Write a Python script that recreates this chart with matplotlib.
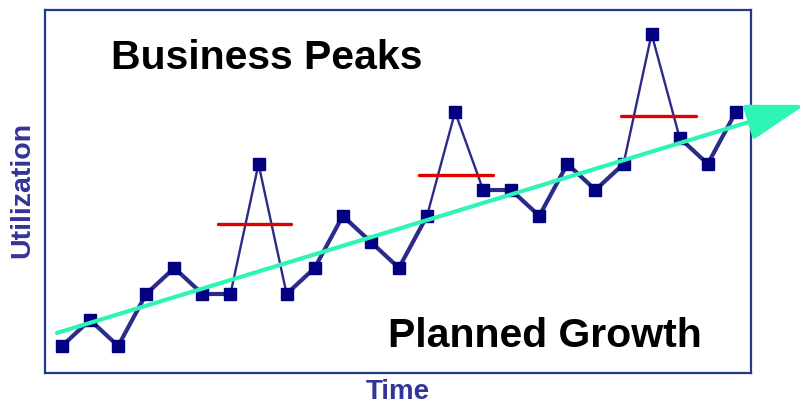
import matplotlib
matplotlib.use("Agg")
import matplotlib.pyplot as plt

# Data (utilization levels over time periods)
periods = list(range(25))
utilization = [0, 1, 0, 2, 3, 2, 2, 7, 2, 3, 5, 4, 3, 5, 9, 6, 6, 5, 7, 6, 7, 12, 8, 7, 9]
peak_idx = [7, 14, 21]
peak_levels = [4.69, 6.58, 8.85]
peak_spans = [(5.56, 8.16), (12.71, 15.35), (19.9, 22.58)]
trend_start = (-0.18, 0.5)
trend_end = (26.46, 9.27)

fig = plt.figure(figsize=(8.04, 4.04), dpi=100)
W, H = 804, 404
ax = fig.add_axes([45 / W, (H - 373) / H, (751 - 45) / W, (373 - 10) / H])
ax.set_xlim(-0.605, 24.54)
ax.set_ylim(-1.04, 12.92)
ax.set_xticks([])
ax.set_yticks([])
for s in ax.spines.values():
    s.set_color('#223a88')
    s.set_linewidth(1.6)

line_color = '#2b2b88'
# segments: thin around peaks, thick elsewhere
thin = set()
for p in peak_idx:
    thin.add(p - 1)
    thin.add(p)
for i in range(len(periods) - 1):
    lw = 1.7 if i in thin else 3.0
    ax.plot(periods[i:i + 2], utilization[i:i + 2], color=line_color, lw=lw,
            solid_capstyle='round', zorder=2)
ax.plot(periods, utilization, linestyle='none', marker='s', markersize=8.6,
        color='#000080', zorder=4)

for lvl, (x0, x1) in zip(peak_levels, peak_spans):
    ax.plot([x0, x1], [lvl, lvl], color='#e00000', lw=2.4, solid_capstyle='round', zorder=3)

ax.annotate('', xy=trend_end, xytext=trend_start, annotation_clip=False,
            arrowprops=dict(arrowstyle='-|>,head_length=2.6,head_width=0.8',
                            mutation_scale=14, color='#2ef5b5', lw=3.0,
                            shrinkA=0, shrinkB=0),
            zorder=5)

font = 'Liberation Sans'
fig.text(111 / W, 1 - 69 / H, 'Business Peaks', fontsize=29.5, fontweight='bold',
         family=font, color='black', ha='left', va='baseline')
fig.text(388 / W, 1 - 347 / H, 'Planned Growth', fontsize=29.5, fontweight='bold',
         family=font, color='black', ha='left', va='baseline')
fig.text(398 / W, 1 - 392 / H, 'Time', fontsize=20, fontweight='bold',
         family=font, color='#333399', ha='center', va='center')
fig.text(22 / W, 1 - 190 / H, 'Utilization', fontsize=20.5, fontweight='bold',
         family=font, color='#333399', ha='center', va='center', rotation=90)

fig.savefig('out.png', dpi=100)
